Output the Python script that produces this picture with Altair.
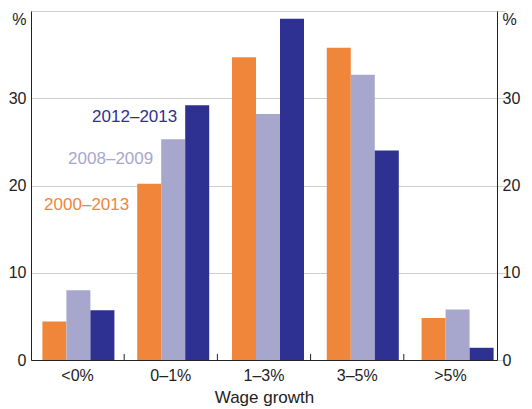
import altair as alt
import pandas as pd

categories = ["<0%", "0–1%", "1–3%", "3–5%", ">5%"]
series = ["2000–2013", "2008–2009", "2012–2013"]
colors = ["#F0863A", "#A7A7CE", "#2E3192"]
v_2000_2013 = [4.4, 20.2, 34.7, 35.8, 4.8]
v_2008_2009 = [8.0, 25.3, 28.2, 32.7, 5.8]
v_2012_2013 = [5.7, 29.2, 39.1, 24.0, 1.4]
label_category = "0–1%"
label_y = [17.8, 23.0, 27.9]

rows = []
for s, vals in zip(series, [v_2000_2013, v_2008_2009, v_2012_2013]):
    for c, v in zip(categories, vals):
        rows.append({"cat": c, "series": s, "value": v})
df = pd.DataFrame(rows)
lab = pd.DataFrame({"cat": [label_category] * 3, "series": series, "value": label_y})
ticks = pd.DataFrame({"cat": categories[1:]})

FONT = "Liberation Sans"
W, H = 466, 349
yscale = alt.Scale(domain=[0, 40], nice=False, zero=True)
# axis / tick scale spans the plot; bar groups sit on a slightly wider step
xscale_axis = alt.Scale(domain=categories, paddingInner=0, paddingOuter=0)
xscale_bars = alt.Scale(domain=categories, paddingInner=0, paddingOuter=0, range=[0, 474])
xoff = alt.XOffset("series:N", sort=series,
                   scale=alt.Scale(domain=series, paddingInner=0, paddingOuter=0.475))
color = alt.Color("series:N", scale=alt.Scale(domain=series, range=colors), legend=None)

baseline_cond = {"condition": {"test": "datum.value == 40", "value": "top"}, "value": "middle"}

def yaxis(orient, grid):
    return alt.Axis(orient=orient, values=[0, 10, 20, 30, 40], title=None, ticks=False,
                    grid=grid, gridColor="#cfcfcf", gridWidth=1, domain=True,
                    domainColor="#222222", labelFont=FONT, labelFontSize=16,
                    labelColor="#222222", labelPadding=5,
                    labelExpr="datum.value == 40 ? '%' : datum.label",
                    labelBaseline=baseline_cond)

xaxis = alt.Axis(title="Wage growth", ticks=False, labelAngle=0, labelFont=FONT,
                 labelFontSize=16, labelColor="#222222", labelPadding=7,
                 titleFont=FONT, titleFontSize=17, titleFontWeight="normal",
                 titleColor="#222222", titlePadding=6, domainColor="#222222")

bars = alt.Chart(df).mark_bar(opacity=1).encode(
    x=alt.X("cat:N", sort=categories, scale=xscale_bars, axis=None),
    xOffset=xoff,
    y=alt.Y("value:Q", scale=yscale, axis=yaxis("left", True)),
    color=color,
)

bars_right = alt.Chart(df).mark_bar(opacity=0).encode(
    x=alt.X("cat:N", sort=categories, scale=xscale_axis, axis=xaxis),
    xOffset=xoff,
    y=alt.Y("value:Q", scale=yscale, axis=yaxis("right", False)),
)

text = alt.Chart(lab).mark_text(align="right", baseline="middle", dx=-20,
                                font=FONT, fontSize=17).encode(
    x=alt.X("cat:N", sort=categories, scale=xscale_bars, axis=None),
    xOffset=xoff,
    y=alt.Y("value:Q", scale=yscale, axis=None),
    text="series:N",
    color=color,
)

tick_rules = alt.Chart(ticks).mark_rule(color="#222222", strokeWidth=1).encode(
    x=alt.X("cat:N", sort=categories, scale=xscale_axis, axis=None, bandPosition=0),
    y=alt.value(H - 6),
    y2=alt.value(H),
)

chart = alt.layer(bars, bars_right, text, tick_rules).resolve_scale(
    y="independent", x="independent"
).properties(
    width=W, height=H,
    autosize=alt.AutoSizeParams(type="none"),
    padding={"left": 23, "top": 3, "right": 27, "bottom": 49},
).configure_view(stroke="#555555", strokeWidth=1.5).configure(background="white")

chart.save("out.html", embed_options={"renderer": "svg", "actions": False})
